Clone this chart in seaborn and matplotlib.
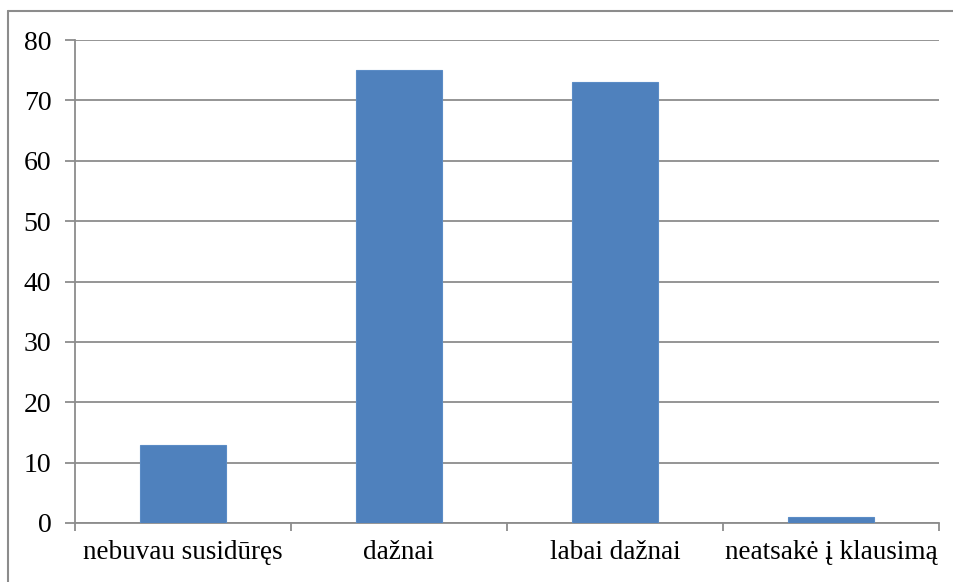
import matplotlib
matplotlib.use("Agg")
import matplotlib.pyplot as plt
from matplotlib.lines import Line2D
from matplotlib.ticker import FixedLocator
import seaborn as sns
import pandas as pd

categories = ["nebuvau susidūręs", "dažnai", "labai dažnai", "neatsakė į klausimą"]
values = [13, 75, 73, 1]
y_ticks = [0, 10, 20, 30, 40, 50, 60, 70, 80]

sns.set_theme(style="white")
plt.rcParams["font.family"] = ["Liberation Serif", "DejaVu Serif"]

df = pd.DataFrame({"category": categories, "value": values})

W, H = 954, 582
fig = plt.figure(figsize=(W / 100, H / 100), dpi=100)
ax = fig.add_axes([75 / W, 1 - 523 / H, (939 - 75) / W, (523 - 40) / H])

sns.barplot(data=df, x="category", y="value", color="#4F81BD", width=0.4,
            saturation=1, ax=ax, zorder=3, edgecolor="#5b8cc6", linewidth=0.8)

grid_c = "#8c8c8c"
ax.set_ylim(0, 80)
ax.set_xlim(-0.5, len(categories) - 0.5)
ax.set_yticks(y_ticks)
ax.set_yticklabels([str(v) for v in y_ticks], fontsize=20, color="black")
ax.yaxis.grid(True, color=grid_c, linewidth=1.3, zorder=0)
ax.set_axisbelow(True)

ax.set_xticks(range(len(categories)))
ax.set_xticklabels(categories, fontsize=19.5, color="black")
ax.tick_params(axis="x", which="major", length=0, pad=12)
ax.xaxis.set_minor_locator(FixedLocator([i - 0.5 for i in range(len(categories) + 1)]))
ax.tick_params(axis="x", which="minor", length=6, width=1.3, color=grid_c, direction="out")
ax.tick_params(axis="y", which="major", length=7, width=1.3, color=grid_c, direction="out", pad=10)
ax.tick_params(left=True, bottom=True, which="both")

ax.set_xlabel("")
ax.set_ylabel("")
for side in ["top", "right"]:
    ax.spines[side].set_visible(False)
for side in ["left", "bottom"]:
    ax.spines[side].set_visible(True)
    ax.spines[side].set_color(grid_c)
    ax.spines[side].set_linewidth(1.3)

# outer chart frame
fig.add_artist(Line2D([8.5 / W, 1.0], [1 - 10.5 / H, 1 - 10.5 / H],
                      transform=fig.transFigure, color="#8c8c8c", linewidth=1.5))
fig.add_artist(Line2D([8.5 / W, 8.5 / W], [0.0, 1 - 10.5 / H],
                      transform=fig.transFigure, color="#8c8c8c", linewidth=1.5))

fig.savefig("out.png", dpi=100, facecolor="white")
